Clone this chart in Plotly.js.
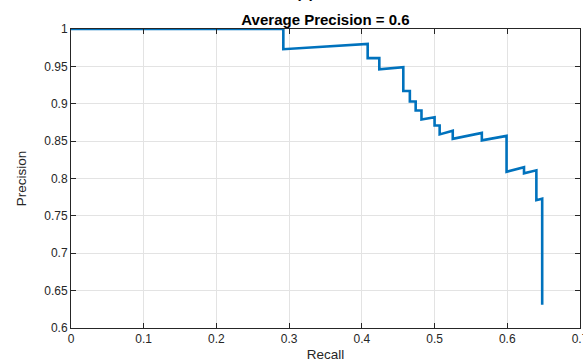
<!DOCTYPE html>
<html>
<head>
<meta charset="utf-8">
<script src="https://cdn.plot.ly/plotly-3.0.1.min.js"></script>
<style>html,body{margin:0;padding:0;background:#fff;}#chart{width:583px;height:362px;}</style>
</head>
<body>
<div id="chart"></div>
<script>
// Precision-recall curve (step-like)
const recall = [0, 0.292, 0.292, 0.408, 0.408, 0.424, 0.424, 0.457, 0.457, 0.466, 0.466, 0.474, 0.474, 0.482, 0.482, 0.500, 0.500, 0.507, 0.507, 0.525, 0.525, 0.565, 0.565, 0.599, 0.599, 0.623, 0.623, 0.640, 0.640, 0.648, 0.648];
const precision = [1, 1, 0.973, 0.980, 0.961, 0.961, 0.946, 0.949, 0.917, 0.917, 0.903, 0.903, 0.891, 0.891, 0.879, 0.882, 0.871, 0.871, 0.859, 0.864, 0.853, 0.861, 0.851, 0.857, 0.809, 0.815, 0.807, 0.811, 0.771, 0.773, 0.631];
const xTicks = [0, 0.1, 0.2, 0.3, 0.4, 0.5, 0.6, 0.7];
const xTickLabels = ["0", "0.1", "0.2", "0.3", "0.4", "0.5", "0.6", "0.7"];
const yTicks = [0.6, 0.65, 0.7, 0.75, 0.8, 0.85, 0.9, 0.95, 1];
const yTickLabels = ["0.6", "0.65", "0.7", "0.75", "0.8", "0.85", "0.9", "0.95", "1"];
const titleText = "Average Precision = 0.6";

const axisCommon = {
  showgrid: true, gridcolor: "#e3e3e3", gridwidth: 1,
  showline: true, linecolor: "#262626", linewidth: 1, mirror: "ticks",
  ticks: "inside", ticklen: 5, tickcolor: "#262626",
  ticklabeloverflow: "allow",
  tickfont: {family: "Liberation Sans, Arial, sans-serif", size: 12, color: "#262626"},
  zeroline: false, fixedrange: true
};

const data = [{
  x: recall, y: precision, type: "scatter", mode: "lines",
  line: {color: "#0072BD", width: 2.6, shape: "linear"},
  hoverinfo: "skip"
}];

const layout = {
  width: 583, height: 362,
  margin: {l: 71, r: 3, t: 29, b: 34},
  paper_bgcolor: "#ffffff", plot_bgcolor: "#ffffff",
  showlegend: false,
  title: {text: "<b>" + titleText + "</b>", x: 0.5, xref: "paper", y: 1, yref: "paper", yanchor: "bottom", pad: {b: 4},
    font: {family: "Liberation Sans, Arial, sans-serif", size: 15, color: "#000"}},
  xaxis: Object.assign({}, axisCommon, {
    range: [0, 0.7], tickvals: xTicks, ticktext: xTickLabels,
    title: {text: "Recall", standoff: 4, font: {family: "Liberation Sans, Arial, sans-serif", size: 13.5, color: "#262626"}}
  }),
  yaxis: Object.assign({}, axisCommon, {
    range: [0.6, 1], tickvals: yTicks, ticktext: yTickLabels,
    title: {text: "Precision", standoff: 14, font: {family: "Liberation Sans, Arial, sans-serif", size: 13.5, color: "#262626"}}
  }),
  annotations: [{
    text: "<b>(a)</b>", xref: "paper", yref: "paper", x: 0.46, y: 1, yshift: 26, xanchor: "center", yanchor: "bottom",
    showarrow: false, font: {family: "Liberation Sans, Arial, sans-serif", size: 15, color: "#000"}
  }]
};

Plotly.newPlot("chart", data, layout, {displayModeBar: false, staticPlot: true});
</script>
</body>
</html>
